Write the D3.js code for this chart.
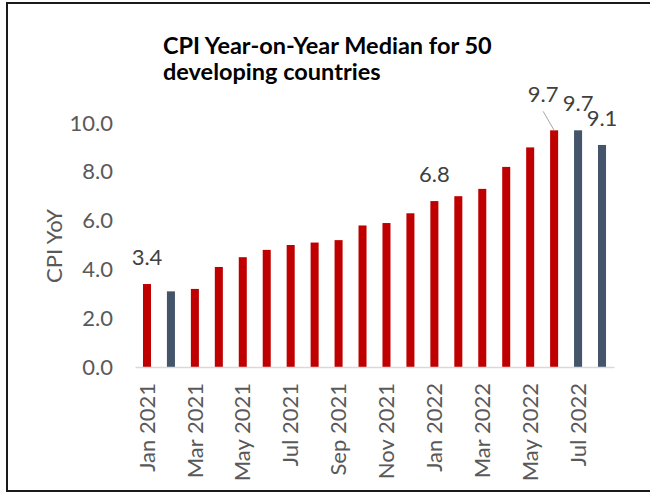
<!DOCTYPE html>
<html>
<head>
<meta charset="utf-8">
<script src="https://cdn.jsdelivr.net/npm/d3@7"></script>
<style>
  body { margin: 0; background: #fff; }
  svg { display: block; }
</style>
</head>
<body>
<div id="chart"></div>
<script>
const months = ['Jan 2021', 'Feb 2021', 'Mar 2021', 'Apr 2021', 'May 2021', 'Jun 2021',
    'Jul 2021', 'Aug 2021', 'Sep 2021', 'Oct 2021', 'Nov 2021', 'Dec 2021',
    'Jan 2022', 'Feb 2022', 'Mar 2022', 'Apr 2022', 'May 2022', 'Jun 2022',
    'Jul 2022', 'Aug 2022'];
const cpiValues = [3.4, 3.1, 3.2, 4.1, 4.5, 4.8, 5.0, 5.1, 5.2, 5.8, 5.9, 6.3,
    6.8, 7.0, 7.3, 8.2, 9.0, 9.7, 9.7, 9.1];
const darkMonths = ['Feb 2021', 'Jul 2022', 'Aug 2022'];
const labelledMonths = ['Jan 2021', 'Jan 2022', 'Jun 2022', 'Jul 2022', 'Aug 2022'];
const yTicks = [0, 2, 4, 6, 8, 10];
const titleLines = ['CPI Year-on-Year Median for 50', 'developing countries'];

const width = 650, height = 493;
const margin = {top: 123, right: 36, bottom: 126, left: 135};
const font = 'Lato, "Open Sans", sans-serif';
const textSize = 22;

const svg = d3.select('#chart').append('svg')
    .attr('width', width)
    .attr('height', height);

// outer frame (runs off the right edge like the original)
svg.append('rect')
    .attr('x', 7).attr('y', 3)
    .attr('width', 680).attr('height', 488)
    .attr('fill', 'none')
    .attr('stroke', '#1a1a1a')
    .attr('stroke-width', 2);

const x = d3.scaleBand()
    .domain(months)
    .range([margin.left, width - margin.right])
    .paddingInner(0.665)
    .paddingOuter(0.333);

const y = d3.scaleLinear()
    .domain([0, 10])
    .range([height - margin.bottom, margin.top]);

// title
svg.append('text')
    .attr('font-family', font)
    .attr('font-weight', 700)
    .attr('font-size', 23.5)
    .attr('fill', '#000')
    .selectAll('tspan')
    .data(titleLines)
    .join('tspan')
    .attr('x', 163)
    .attr('y', (d, i) => 54 + i * 26)
    .text(d => d);

// y axis (labels only)
const yAxis = svg.append('g')
    .attr('transform', `translate(${margin.left - 22},0)`)
    .call(d3.axisLeft(y).tickValues(yTicks).tickFormat(d3.format('.1f')).tickSize(0).tickPadding(0));
yAxis.select('.domain').remove();
yAxis.selectAll('text')
    .attr('font-family', font)
    .attr('font-size', textSize)
    .attr('fill', '#595959');

// y axis title
svg.append('text')
    .attr('transform', `translate(62,${246}) rotate(-90)`)
    .attr('text-anchor', 'middle')
    .attr('font-family', font)
    .attr('font-size', textSize)
    .attr('fill', '#595959')
    .text('CPI YoY');

// bars
svg.append('g')
    .selectAll('rect')
    .data(months)
    .join('rect')
    .attr('x', d => x(d))
    .attr('width', x.bandwidth())
    .attr('y', (d, i) => y(cpiValues[i]))
    .attr('height', (d, i) => y(0) - y(cpiValues[i]))
    .attr('fill', d => darkMonths.includes(d) ? '#44546A' : '#C00000');

// x axis
const xAxis = svg.append('g')
    .attr('transform', `translate(0,${y(0)})`)
    .call(d3.axisBottom(x).tickValues(months.filter((d, i) => i % 2 === 0)).tickSize(0).tickPadding(0));
xAxis.select('.domain')
    .attr('stroke', '#d9d9d9')
    .attr('stroke-width', 1.5);
xAxis.selectAll('text')
    .attr('font-family', font)
    .attr('font-size', textSize)
    .attr('fill', '#595959')
    .attr('text-anchor', 'end')
    .attr('dy', '0.35em')
    .attr('transform', 'translate(0,16) rotate(-90)');

// data labels
const labelled = months.map((m, i) => ({m, v: cpiValues[i]}))
    .filter(d => labelledMonths.includes(d.m));
const labels = svg.append('g')
    .attr('font-family', font)
    .attr('font-size', textSize)
    .attr('fill', '#404040')
    .attr('text-anchor', 'middle');
labels.selectAll('text')
    .data(labelled)
    .join('text')
    .attr('x', d => x(d.m) + x.bandwidth() / 2 + (d.m === 'Jun 2022' ? -11 : 0))
    .attr('y', d => y(d.v) - (d.m === 'Jun 2022' ? 28 : 19))
    .text(d => d.v.toFixed(1));

// leader line for the moved label
const moved = labelled.find(d => d.m === 'Jun 2022');
svg.append('line')
    .attr('x1', x(moved.m) + x.bandwidth() / 2 - 11)
    .attr('y1', y(moved.v) - 19)
    .attr('x2', x(moved.m) + x.bandwidth() / 2)
    .attr('y2', y(moved.v))
    .attr('stroke', '#a6a6a6')
    .attr('stroke-width', 1);
</script>
</body>
</html>
